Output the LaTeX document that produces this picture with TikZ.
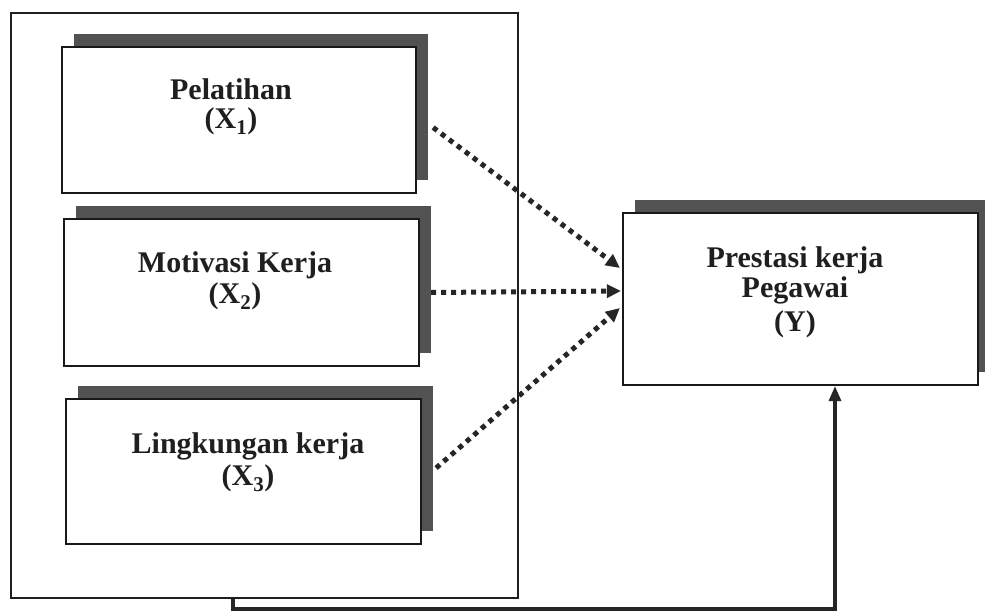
\documentclass[tikz,border=0pt]{standalone}
\usepackage{fontspec}
\setmainfont{Liberation Serif}
\usetikzlibrary{arrows.meta,shadows,calc}
\tikzset{
  boxshadow/.style={drop shadow={shadow xshift=12pt, shadow yshift=13pt, fill=black!68, opacity=1}},
  varbox/.style={draw=black!90, line width=2.2pt, fill=white, boxshadow, inner sep=0pt},
  lbl/.style={align=center, anchor=north, inner sep=0pt,
    font=\bfseries\fontsize{30}{31}\selectfont, text=black!88},
  dotarrow/.style={line width=5pt, dash pattern=on 5pt off 5pt, black!85,
    -{Triangle[length=14pt,width=13pt]}},
  solidarrow/.style={line width=3.2pt, black!85, -{Triangle[length=15pt,width=12pt]}},
}
\begin{document}
\begin{tikzpicture}[x=1pt,y=-1pt]
\useasboundingbox (0,0) rectangle (985,613);
\fill[white] (0,0) rectangle (985,613);
% outer frame
\node[draw=black!88, line width=2pt, minimum width=507pt, minimum height=585pt, inner sep=0pt] (outer) at (264.5,305.5) {};
% variable boxes
\node[varbox, minimum width=354pt, minimum height=146pt] (x1) at (239,120) {};
\node[varbox, minimum width=355pt, minimum height=147pt] (x2) at (241.5,292.5) {};
\node[varbox, minimum width=355pt, minimum height=145pt] (x3) at (243.5,471.5) {};
\node[varbox, minimum width=355pt, minimum height=172pt] (y) at (800.5,299) {};
% labels
\node[lbl] (x1t) at (231,78.7) {Pelatihan\\[-2pt](X\textsubscript{1})};
\node[lbl] (x2t) at (235,251.7) {Motivasi Kerja\\(X\textsubscript{2})};
\node[lbl] (x3t) at (248,432.7) {Lingkungan kerja\\[1pt](X\textsubscript{3})};
\node[lbl] (yt) at (795,246.7) {Prestasi kerja\\[-1pt]Pegawai\\[3pt](Y)};
% dotted arrows
\draw[dotarrow] ([xshift=16pt,yshift=-7.5pt]x1.east) -- ([xshift=-2pt,yshift=31pt]y.west);
\draw[dotarrow] ([xshift=11pt]x2.east) -- ([xshift=-1pt,yshift=8pt]y.west);
\draw[dotarrow] ([xshift=14pt,yshift=3.5pt]x3.east) -- ([xshift=-2pt,yshift=-9pt]y.west);
% feedback connector
\coordinate (c1) at (233,609);
\coordinate (c2) at (835,609);
\draw[solidarrow] ([xshift=-31.5pt]outer.south) -- (c1) -- (c2) -- (c2 |- y.south);
\end{tikzpicture}
\end{document}
